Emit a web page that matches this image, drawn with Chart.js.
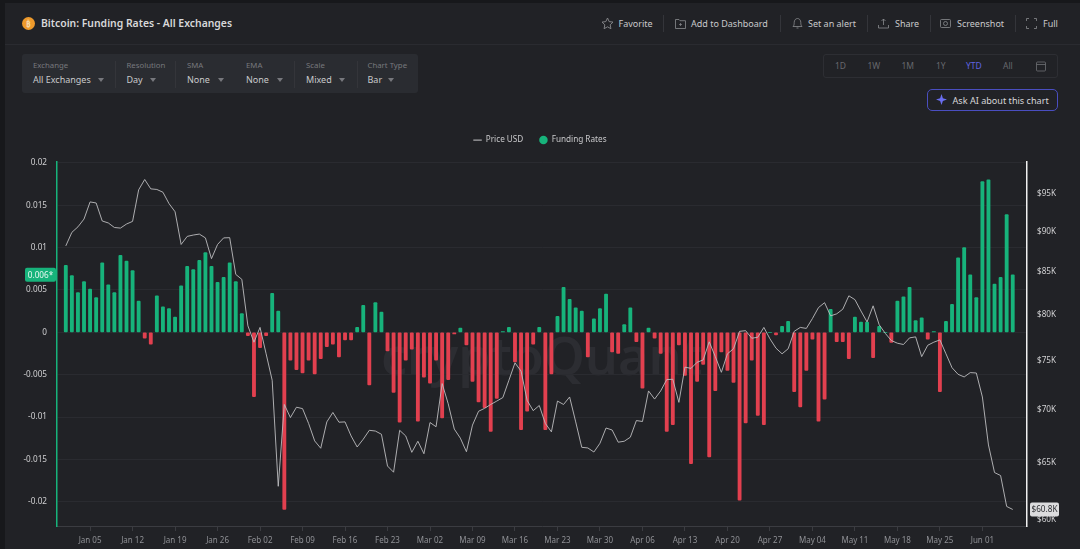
<!DOCTYPE html>
<html><head><meta charset="utf-8">
<style>
*{box-sizing:border-box}
html,body{margin:0;padding:0;width:1080px;height:549px;overflow:hidden;background:#17181b;font-family:"Noto Sans",sans-serif;color:#d4d4d6}
#panel{position:absolute;left:5px;top:3px;width:1075px;height:546px;background:#212226}
.t{position:absolute;white-space:nowrap;line-height:1}
.sep{position:absolute;width:1px;background:#34353a}
svg{position:absolute;overflow:visible}
#canvasWrap{position:absolute;left:0;top:0;width:1080px;height:549px}
</style></head><body>
<div id="panel"></div>
<div style="position:absolute;left:5px;top:44px;width:1075px;height:1px;background:#2a2b30"></div>
<div style="position:absolute;left:22px;top:17px;width:13px;height:13px;border-radius:50%;background:#ee9a2c"></div>
<div class="t" style="left:26px;top:20px;font-size:8px;color:#f6d9a8;font-weight:700">₿</div>
<div class="t" style="left:41px;top:18px;font-size:10.4px;font-weight:600;color:#d8d8da">Bitcoin: Funding Rates - All Exchanges</div>

<svg style="left:601px;top:17px" width="13" height="13" viewBox="0 0 13 13"><path d="M6.500 1l1.700 3.600 3.800.5-2.800 2.700.7 3.900-3.400-1.900-3.400 1.900.7-3.900L1 5.100l3.800-.5z" fill="none" stroke="#8a8b8f" stroke-width=".9"/></svg>
<div class="t" style="left:618.5px;top:19px;font-size:9px;color:#c9c9cb">Favorite</div>
<div class="sep" style="left:663px;top:15px;height:17px"></div>
<svg style="left:675px;top:18px" width="11" height="11" viewBox="0 0 11 11"><path d="M.5 1.500h3.500l1 1.200h5.500v7.800H.5z" fill="none" stroke="#8a8b8f" stroke-width=".8"/><path d="M5.500 5v3M4 6.500h3" stroke="#8a8b8f" stroke-width=".7"/></svg>
<div class="t" style="left:691px;top:19px;font-size:9px;color:#c9c9cb">Add to Dashboard</div>
<div class="sep" style="left:780px;top:15px;height:17px"></div>
<svg style="left:792px;top:17px" width="11" height="13" viewBox="0 0 11 13"><path d="M1 9.500c1-1 1.200-2 1.200-4C2.200 3 3.800 1.500 5.500 1.500S8.800 3 8.800 5.500c0 2 .2 3 1.200 4z M4.500 11h2" fill="none" stroke="#8a8b8f" stroke-width=".8"/></svg>
<div class="t" style="left:808px;top:19px;font-size:9px;color:#c9c9cb">Set an alert</div>
<div class="sep" style="left:867px;top:15px;height:17px"></div>
<svg style="left:878px;top:18px" width="11" height="11" viewBox="0 0 11 11"><path d="M5.500 7V1M3.500 3l2-2 2 2M.5 7v3h10V7" fill="none" stroke="#8a8b8f" stroke-width=".8"/></svg>
<div class="t" style="left:895px;top:19px;font-size:9px;color:#c9c9cb">Share</div>
<div class="sep" style="left:930px;top:15px;height:17px"></div>
<svg style="left:940px;top:18px" width="11" height="10" viewBox="0 0 11 10"><rect x=".5" y="1.500" width="10" height="8" rx="1" fill="none" stroke="#8a8b8f" stroke-width=".8"/><circle cx="5.500" cy="5.500" r="2" fill="none" stroke="#8a8b8f" stroke-width=".8"/></svg>
<div class="t" style="left:957px;top:19px;font-size:9px;color:#c9c9cb">Screenshot</div>
<div class="sep" style="left:1015px;top:15px;height:17px"></div>
<svg style="left:1026px;top:18px" width="11" height="11" viewBox="0 0 11 11"><path d="M.5 3V.5H3M8 .5h2.500V3M10.500 8v2.500H8M3 10.500H.5V8" fill="none" stroke="#8a8b8f" stroke-width=".8"/></svg>
<div class="t" style="left:1043px;top:19px;font-size:9px;color:#c9c9cb">Full</div>

<div style="position:absolute;left:22px;top:54px;width:396px;height:39px;background:#2a2c31;border-radius:3px"></div>
<div class="sep" style="left:115px;top:61px;height:27px"></div>
<div class="sep" style="left:175px;top:61px;height:27px"></div>
<div class="sep" style="left:294px;top:61px;height:27px"></div>
<div class="sep" style="left:357px;top:61px;height:27px"></div>
<div id="filters"></div>

<div style="position:absolute;left:823px;top:54px;width:235px;height:24px;border:1px solid #2d2e33;border-radius:3px"></div>
<div id="ranges"></div>
<svg style="left:1036px;top:61px" width="11" height="11" viewBox="0 0 11 11"><rect x=".5" y="1" width="9" height="9" rx="1" fill="none" stroke="#6f7075" stroke-width=".8"/><path d="M.5 3.500h9" stroke="#6f7075" stroke-width=".8"/></svg>

<div style="position:absolute;left:927px;top:89px;width:131px;height:22px;border:1px solid #4a4ec0;border-radius:5px"></div>
<svg style="left:936px;top:94px" width="11" height="11" viewBox="0 0 12 12"><path d="M6 0l1.500 4.500L12 6 7.500 7.500 6 12 4.500 7.500 0 6l4.500-1.500z" fill="#6a6ef0"/></svg>
<div class="t" style="left:952.5px;top:95.5px;font-size:9.1px;color:#d6d6d8">Ask AI about this chart</div>

<div class="t" style="left:381px;top:329px;font-size:52px;font-weight:600;color:#2c2d32">cryptoQuant</div>

<div id="canvasWrap"><canvas id="c" width="1080" height="549"></canvas></div>

<script src="https://cdn.jsdelivr.net/npm/chart.js@4"></script>
<script>
const tickDays = [4,11,18,25,32,39,46,53,60,67,74,81,88,95,102,109,116,123,130,137,144,151];
const tickLabels = ["Jan 05","Jan 12","Jan 19","Jan 26","Feb 02","Feb 09","Feb 16","Feb 23","Mar 02","Mar 09","Mar 16","Mar 23","Mar 30","Apr 06","Apr 13","Apr 20","Apr 27","May 04","May 11","May 18","May 25","Jun 01"];
const fundingTicks = [-0.02,-0.015,-0.01,-0.005,0,0.005,0.01,0.015,0.02];
const priceTicks = [60000,65000,70000,75000,80000,85000,90000,95000];
const fundingRates = [
.0079,.0067,.0047,.0060,.0051,.0041,.0082,.0056,.0047,.0091,.0084,.0073,.0037,-.0007,-.0014,.0043,.0030,.0028,.0018,.0055,.0078,.0074,.0085,.0094,.0078,.0059,.0065,.0082,.0060,.0022,-.0004,
-.0076,-.0018,-.0004,.0046,.0025,-.0209,-.0033,-.0044,-.0048,-.0033,-.0049,-.0031,-.0017,-.0014,-.0029,-.0009,-.0009,.0006,.0032,-.0062,.0035,.0024,-.0022,-.0071,-.0106,-.0033,-.0020,-.0105,
-.0053,-.0060,-.0033,-.0101,-.0056,-.0002,.0005,-.0015,-.0058,-.0082,-.0089,-.0117,-.0078,.0001,.0006,-.0035,-.0115,-.0093,-.0014,.0006,-.0115,-.0049,.0019,.0053,.0039,.0029,.0025,-.0029,.0016,.0028,.0045,
-.0023,-.0025,.0009,.0029,-.0011,-.0066,.0005,-.0007,-.0025,-.0117,-.0109,-.0015,-.0051,-.0155,-.0058,-.0038,-.0147,-.0069,-.0023,-.0045,-.0059,-.0198,-.0107,-.0033,-.0098,-.0109,0,-.0003,.0007,.0013,
-.0070,-.0088,-.0045,-.0008,-.0105,-.0079,.0027,-.0011,-.0011,-.0031,.0018,.0012,.0012,-.0030,.0007,0,-.0012,.0037,.0042,.0053,.0014,.0017,-.0008,.0001,-.0070,.0013,.0033,.0088,.0100,.0068,.0041,
.0178,.0180,.0057,.0065,.0139,.0068];
const priceUsd = [
88200,89900,90600,91600,93840,93700,91350,91100,90520,90440,90960,91300,95450,96850,95580,95500,95130,93620,92550,88380,89390,89560,89680,89200,86630,88380,89200,89230,84730,84140,78810,
77010,78630,75760,72990,62860,70540,69250,70270,70130,68680,67010,66320,68830,69750,68800,68830,67480,66440,67170,68020,67950,67640,64680,64120,68020,67480,65940,66980,
65810,68770,68360,72650,70610,68140,67270,66000,68520,69870,70160,70540,70880,71230,72990,74800,73940,70950,69930,70440,68680,67870,70880,70540,71290,68830,66410,66350,65970,66790,68240,
68050,66890,66980,67360,68960,68870,71900,71080,71900,73060,73090,70750,74350,74220,74860,75110,77050,75460,73810,75760,76300,78200,78270,77440,77550,78630,77380,76360,75760,76300,
78200,78630,78520,79620,80860,81420,79920,80150,80670,82210,81770,80470,79240,81060,78920,77980,77190,76900,76760,77480,77590,75460,76680,77010,77260,75760,74290,73600,73330,73780,73740,
71290,66630,64090,63820,61100,60840];
const filterNames = ["Exchange","Resolution","SMA","EMA","Scale","Chart Type"];
const filterValues = ["All Exchanges","Day","None","None","Mixed","Bar"];
const rangeNames = ["1D","1W","1M","1Y","YTD","All"];

const fx=[33,126.5,187,246,306,367.5], ax=[98,150,218,277,339,388];
document.getElementById('filters').innerHTML = filterNames.map((n,i)=>
 `<div class="t" style="left:${fx[i]}px;top:62px;font-size:7.8px;color:#77787d">${n}</div>`+
 `<div class="t" style="left:${fx[i]}px;top:75px;font-size:9px;color:#c9c9cb">${filterValues[i]}</div>`+
 `<div style="position:absolute;left:${ax[i]}px;top:78px;width:0;height:0;border-left:3.5px solid transparent;border-right:3.5px solid transparent;border-top:4px solid #77787d"></div>`).join('');
const rx=[835,867.5,901.5,936,966,1003];
document.getElementById('ranges').innerHTML = rangeNames.map((n,i)=>
 `<div class="t" style="left:${rx[i]}px;top:62px;font-size:8.5px;color:${n==='YTD'?'#5f62e0':'#67686d'}">${n}</div>`).join('');

const xs = fundingRates.map((_,i)=>i);
const GREEN='#17b37b', RED='#e2404f';
function tag(ctx,x,y,w,h,bg,border,color,text,font){
  ctx.save();ctx.beginPath();ctx.roundRect(x,y-h/2,w,h,2);ctx.fillStyle=bg;ctx.fill();
  if(border){ctx.strokeStyle=border;ctx.lineWidth=1;ctx.stroke();}
  ctx.fillStyle=color;ctx.font=font;ctx.textAlign='center';ctx.textBaseline='middle';
  ctx.fillText(text,x+w/2,y+.5);ctx.restore();
}
const tags={id:'tags',
 beforeInit(ch){const f=ch.legend.fit;ch.legend.fit=function(){f.call(this);this.height+=8;};},
 afterDraw(ch){
  const c=ch.ctx,f=ch.scales.y,p=ch.scales.y1;
  tag(c,25,f.getPixelForValue(fundingRates[fundingRates.length-1]),31,14,GREEN,null,'#e8f7f1','0.006*','8.2px "Noto Sans"');
  tag(c,1030,p.getPixelForValue(priceUsd[priceUsd.length-1]),29,14,'#dcdcde',null,'#2e2f33','$60.8K','8.2px "Noto Sans"');
}};
new Chart(document.getElementById('c'),{
 data:{datasets:[
  {type:'line',label:'Price USD',data:xs.map(i=>({x:i,y:priceUsd[i]})),yAxisID:'y1',xAxisID:'x',borderColor:'#bdbdc0',backgroundColor:'#bdbdc0',borderWidth:.9,pointRadius:0,tension:0,order:0},
  {type:'bar',label:'Funding Rates',data:xs.map(i=>({x:i,y:fundingRates[i]})),yAxisID:'y',xAxisID:'x',backgroundColor:fundingRates.map(v=>v>=0?GREEN:RED),barThickness:3.2,borderRadius:1,borderSkipped:false,order:1}
 ]},
 plugins:[tags],
 options:{
  responsive:false,animation:false,devicePixelRatio:1,
  layout:{padding:{top:120,left:0,right:0,bottom:0}},
  plugins:{tooltip:{enabled:false},
   legend:{display:true,position:'top',align:'center',
    labels:{color:'#c9c9cb',font:{size:8.2,family:'"Noto Sans"'},usePointStyle:true,boxHeight:6,padding:16,
     generateLabels(){return [
      {text:'Price USD',pointStyle:'line',strokeStyle:'#c9c9cb',fillStyle:'#c9c9cb',lineWidth:1,fontColor:'#c9c9cb'},
      {text:'Funding Rates',pointStyle:'circle',strokeStyle:GREEN,fillStyle:GREEN,lineWidth:0,fontColor:'#c9c9cb'}];}}}},
  scales:{
   x:{type:'linear',offset:false,min:-1.45,max:158.35,
    afterBuildTicks(s){s.ticks=tickDays.map(v=>({value:v}));},
    afterFit(s){s.height=23;},
    grid:{offset:false,drawOnChartArea:false,drawTicks:true,tickLength:5,color:'#3b3c41'},
    border:{color:'#3b3c41',width:1},
    ticks:{color:'#8f9095',font:{size:8,family:'"Noto Sans"'},maxRotation:0,autoSkip:false,padding:5,
     callback(v){return tickLabels[tickDays.indexOf(v)];}}},
   y:{position:'left',min:-0.02286,max:0.02008,
    afterBuildTicks(s){s.ticks=fundingTicks.map(v=>({value:v}));},
    afterFit(s){s.width=57;},
    grid:{color:'#2a2b30',drawTicks:false},
    border:{color:GREEN,width:1.5},
    ticks:{color:'#cfcfd1',font:{size:8.2,family:'"Noto Sans"'},padding:10,autoSkip:false,callback(v){return String(v);}}},
   y1:{type:'logarithmic',position:'right',min:59440,max:99240,
    afterBuildTicks(s){s.ticks=priceTicks.map(v=>({value:v}));},
    afterFit(s){s.width=53;},
    grid:{drawOnChartArea:false,drawTicks:false},
    border:{color:'#f0f0f0',width:1.5},
    ticks:{color:'#cfcfd1',font:{size:8.2,family:'"Noto Sans"'},padding:10,autoSkip:false,callback(v){return '$'+v/1000+'K';}}}
  }
 }
});
</script>
</body></html>
